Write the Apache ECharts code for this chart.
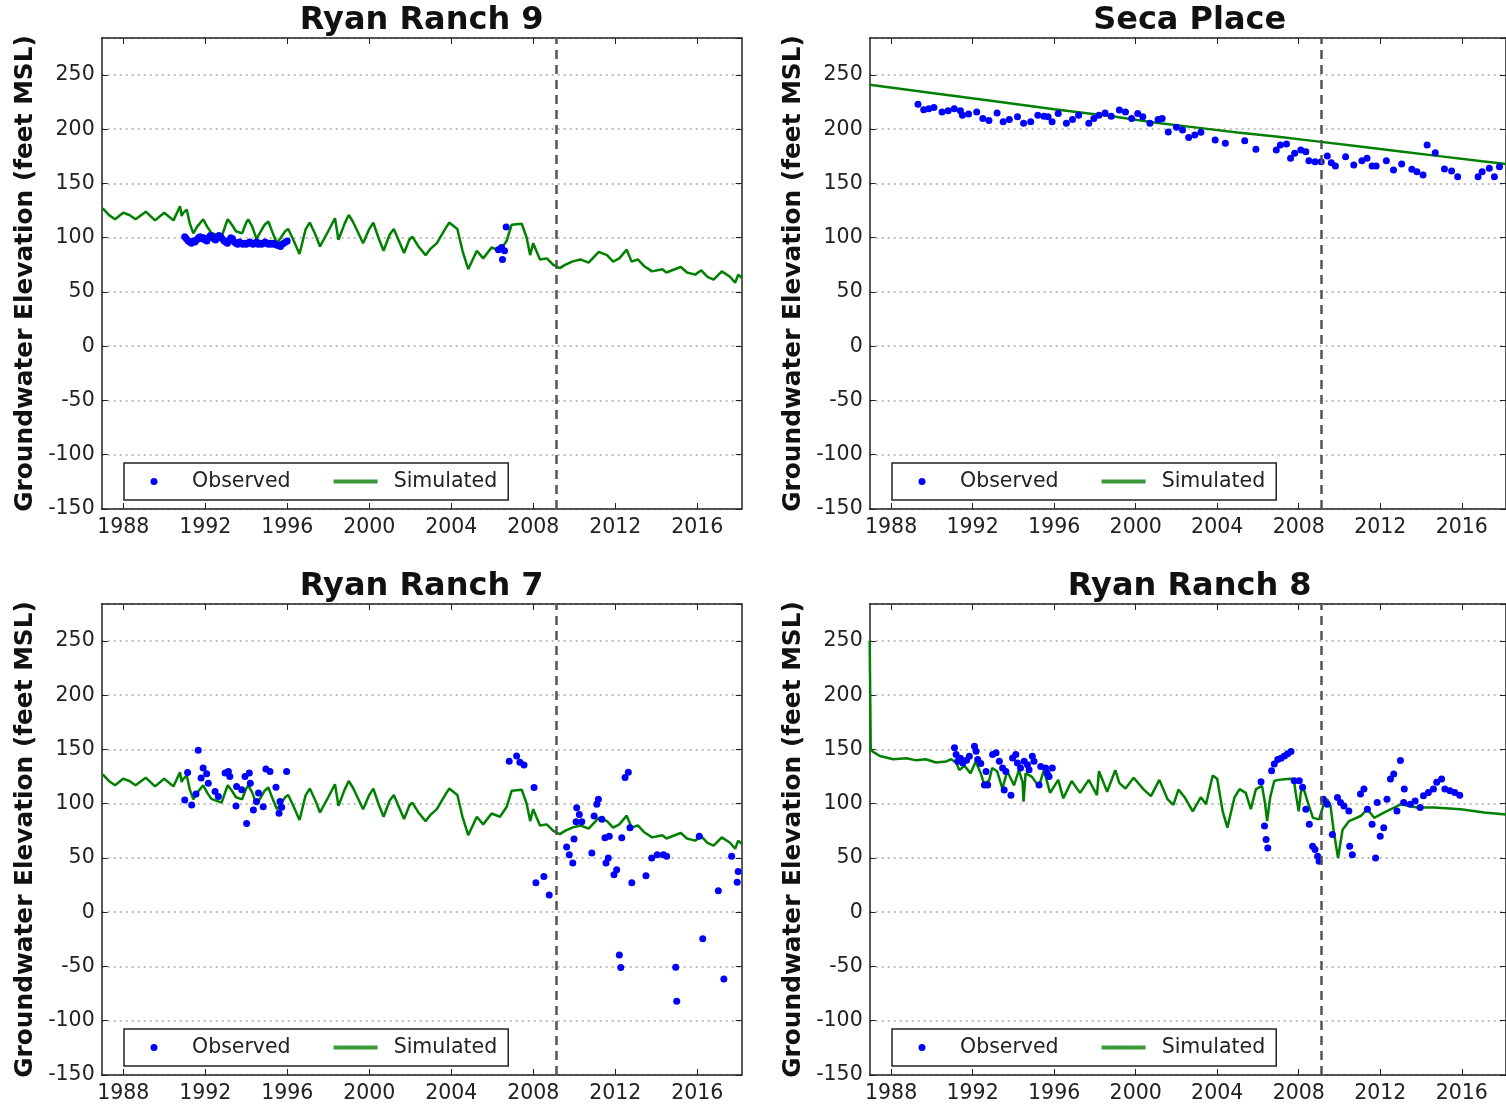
<!DOCTYPE html>
<html>
<head>
<meta charset="utf-8">
<script src="https://cdn.jsdelivr.net/npm/echarts@6/dist/echarts.min.js"></script>
<style>
  html, body { margin: 0; padding: 0; background: #fff; }
  #chart { width: 1506px; height: 1105px; }
</style>
</head>
<body>
<div id="chart"></div>
<script>
// ---- data: decimal year, groundwater elevation (feet MSL) ----
const yearTicks = [1988, 1992, 1996, 2000, 2004, 2008, 2012, 2016];
const wellTitles = ['Ryan Ranch 9', 'Seca Place', 'Ryan Ranch 7', 'Ryan Ranch 8'];
const calibrationEndYear = 2009.1;

// simulated hydrograph shared by Ryan Ranch 9 and Ryan Ranch 7
const simRyanRanch9 = [
  [1987.0,127],[1987.3,121],[1987.6,117],[1988.0,123],[1988.3,121],[1988.6,117],[1989.1,124],
  [1989.55,116],[1990.0,123],[1990.45,116],[1990.77,129],[1990.85,120],[1990.93,123],[1991.1,126],
  [1991.25,113],[1991.42,104],[1991.6,110],[1991.9,117],[1992.1,110],[1992.3,104.5],[1992.8,101],
  [1993.0,112],[1993.1,117],[1993.3,112],[1993.5,106],[1993.8,104],[1994.0,114],[1994.1,117],
  [1994.3,110],[1994.5,99],[1994.9,112],[1995.08,115],[1995.3,104],[1995.5,95],[1995.9,106],
  [1996.05,108],[1996.3,98],[1996.6,85],[1996.9,108],[1997.1,114],[1997.35,104],[1997.6,92],
  [1998.0,106],[1998.33,118],[1998.5,98],[1998.8,113],[1999.0,121],[1999.2,115],[1999.45,105],
  [1999.7,95],[2000.0,108],[2000.2,114],[2000.45,100],[2000.7,88],[2001.0,103],[2001.2,108],
  [2001.45,97],[2001.7,86],[2001.95,98],[2002.1,101],[2002.4,92],[2002.75,84],[2003.0,90],
  [2003.3,95],[2003.7,108],[2003.9,114],[2004.3,108],[2004.55,88],[2004.83,71],[2005.05,80],
  [2005.25,88],[2005.56,81],[2005.97,91],[2006.38,88],[2006.7,97],[2006.95,112],[2007.44,113],
  [2007.68,100],[2007.85,84],[2008.0,95],[2008.15,88],[2008.33,80],[2008.66,81],[2008.98,75],
  [2009.3,72],[2009.55,75],[2009.9,78],[2010.3,80],[2010.7,77],[2011.2,87],[2011.6,84],
  [2011.9,78],[2012.2,81],[2012.56,89],[2012.8,78],[2013.1,80],[2013.4,74],[2013.8,69],
  [2014.3,71],[2014.5,68],[2014.9,71],[2015.2,73],[2015.5,68],[2015.9,66],[2016.2,70],
  [2016.5,64],[2016.8,61.5],[2017.2,69],[2017.6,64],[2017.85,58.5],[2018.0,66],[2018.17,63]
];

const obsRyanRanch9 = [
  [1991.00,101],[1991.08,99],[1991.17,97],[1991.25,96],[1991.33,95],[1991.42,97],[1991.50,96],
  [1991.58,98],[1991.67,100],[1991.75,101],[1991.83,99],[1991.92,100],[1992.00,98],[1992.08,97],
  [1992.17,100],[1992.25,102],[1992.33,101],[1992.42,99],[1992.50,98],[1992.58,100],[1992.67,102],
  [1992.75,101],[1992.83,99],[1992.92,97],[1993.00,96],[1993.08,95],[1993.17,98],[1993.25,100],
  [1993.33,99],[1993.42,96],[1993.50,95],[1993.58,94],[1993.67,96],[1993.75,95],[1993.83,94],
  [1993.92,95],[1994.00,94],[1994.08,95],[1994.17,96],[1994.25,95],[1994.33,94],[1994.42,95],
  [1994.50,96],[1994.58,94],[1994.67,95],[1994.75,94],[1994.83,95],[1994.92,96],[1995.00,95],
  [1995.08,94],[1995.17,95],[1995.25,94],[1995.33,95],[1995.42,94],[1995.50,93],[1995.58,93],
  [1995.67,92],[1995.75,94],[1995.83,95],[1995.92,96],[1996.00,97],
  [2006.30,89],[2006.45,91],[2006.50,80],[2006.60,88],[2006.68,110]
];

const simSecaPlace = [
  [1986.95,241],[1990.0,233.5],[1993.0,226],[1996.0,218.5],[1999.0,211.5],[2001.0,206],
  [2003.0,201.5],[2005.0,197],[2007.0,193],[2009.0,188.6],[2011.0,184],[2013.0,179.5],
  [2015.0,175],[2017.0,170.5],[2018.17,168]
];

const obsSecaPlace = [
  [1989.32,223],[1989.6,218],[1989.85,219],[1990.1,220],[1990.5,216],[1990.8,217],[1991.1,219],
  [1991.4,217],[1991.5,213],[1991.8,214],[1992.2,216],[1992.5,210],[1992.8,208],[1993.2,215],
  [1993.5,207],[1993.8,209],[1994.2,211.5],[1994.5,205.5],[1994.85,207],[1995.2,213],[1995.5,212],
  [1995.7,211.5],[1995.9,207],[1996.2,214.6],[1996.6,205.5],[1996.9,209],[1997.2,213],[1997.7,205.5],
  [1997.95,210],[1998.2,213],[1998.5,215],[1998.8,212],[1999.2,217.7],[1999.5,216],[1999.8,210],
  [2000.1,214.6],[2000.35,211.5],[2000.7,205.5],[2001.1,209],[2001.3,210],[2001.6,197.5],
  [2002.0,201.8],[2002.3,199.3],[2002.6,192.5],[2002.9,194.7],[2003.2,197.2],[2003.9,190.1],
  [2004.4,187],[2005.35,189.5],[2005.9,181.5],[2006.9,180.9],[2007.1,185.5],[2007.4,186.4],
  [2007.6,173.2],[2007.8,177.8],[2008.1,180.9],[2008.35,179.3],[2008.5,171],[2008.8,170.1],
  [2009.1,170.1],[2009.4,175.4],[2009.6,169.2],[2009.8,166.1],[2010.3,174.7],[2010.7,167],
  [2011.1,171],[2011.35,173.2],[2011.6,166.1],[2011.8,166.1],[2012.3,171],[2012.65,162.4],
  [2013.05,168],[2013.55,163.1],[2013.8,160.9],[2014.1,157.8],[2014.3,185.5],[2014.7,178.4],
  [2015.15,163.3],[2015.5,161.5],[2015.8,156.2],[2016.8,156.2],[2017.0,160.9],[2017.35,164],
  [2017.6,156.2],[2017.85,165.5]
];

const obsRyanRanch7 = [
  [1991.0,103.5],[1991.14,128.9],[1991.34,98.9],[1991.55,109],[1991.66,149.4],[1991.8,123.7],
  [1991.9,133],[1992.07,127.7],[1992.15,119],[1992.48,111.2],[1992.64,106.6],[1992.97,128.3],
  [1993.13,129.8],[1993.2,125.2],[1993.5,98],[1993.53,115.9],[1993.78,112.8],[1993.94,125.2],
  [1994.02,81.9],[1994.15,128.3],[1994.2,119],[1994.35,94.2],[1994.5,102],[1994.6,109.8],
  [1994.83,97.3],[1994.96,132],[1995.16,129.8],[1995.45,115.3],[1995.6,91.2],[1995.65,102],
  [1995.73,96.8],[1995.97,129.8],
  [2006.83,139.2],[2007.19,143.9],[2007.35,138.3],[2007.55,135.8],[2008.04,115],[2008.13,27.3],
  [2008.52,32.9],[2008.78,15.9],[2009.63,60.2],[2009.76,53.1],[2009.93,45.3],[2009.99,67.6],
  [2010.09,83.5],[2010.12,96.4],[2010.25,90.2],[2010.37,83.5],[2010.86,54.6],[2010.97,88.7],
  [2011.1,99.5],[2011.18,104.2],[2011.35,85.6],[2011.5,68.6],[2011.55,45.3],[2011.66,50],
  [2011.71,70.1],[2011.94,34.5],[2012.07,39.1],[2012.2,-39.5],[2012.27,-51],[2012.32,68.6],
  [2012.48,124.3],[2012.64,129],[2012.72,77.9],[2012.81,27.3],[2013.5,33.6],[2013.78,50],
  [2014.05,53.1],[2014.35,53.1],[2014.51,51.5],[2014.95,-50.7],[2015.0,-82],[2016.1,70.1],
  [2016.27,-24.4],[2017.03,19.9],[2017.3,-61.5],[2017.68,51.5],[2017.95,27.7],[2018.0,37.6]
];

const simRyanRanch8 = [
  [1986.95,250],[1987.0,150],[1987.1,148],[1987.45,144],[1988.1,141],[1988.75,142],[1989.24,140],
  [1989.7,141],[1990.2,138],[1990.7,139],[1990.95,141],[1991.2,137.6],[1991.35,131],[1991.6,135],
  [1991.9,128],[1992.15,139],[1992.4,128],[1992.55,119],[1992.8,121],[1992.96,133],[1993.2,130],
  [1993.46,114],[1993.7,130],[1994.03,117],[1994.27,131],[1994.45,120],[1994.5,102],[1994.6,128],
  [1994.9,125],[1995.25,116],[1995.5,131],[1995.8,110],[1996.2,122],[1996.45,105],[1996.86,121],
  [1997.27,110],[1997.7,122],[1998.1,108],[1998.2,130],[1998.6,111],[1999.0,131],[1999.2,119],
  [1999.5,114],[1999.9,124],[2000.4,113],[2000.75,107],[2001.16,122],[2001.57,104],[2001.85,99],
  [2002.1,113],[2002.4,106],[2002.8,93],[2003.2,106],[2003.45,99.5],[2003.78,126],[2004.0,123],
  [2004.27,93],[2004.5,78],[2004.85,106],[2005.1,113.5],[2005.4,110],[2005.65,95],[2005.9,113.5],
  [2006.2,116.5],[2006.35,100],[2006.45,84],[2006.6,106],[2006.8,121],[2007.0,122],[2007.3,122.5],
  [2007.6,123],[2007.76,122.8],[2007.85,110],[2008.0,93],[2008.1,110],[2008.2,116.5],[2008.45,101],
  [2008.7,87],[2009.0,85.6],[2009.25,101],[2009.4,104],[2009.56,98],[2009.73,73],[2009.93,50],
  [2010.15,76],[2010.47,84],[2011.04,88.7],[2011.37,95],[2011.7,87],[2012.2,92],[2012.68,96.5],
  [2013.0,99.5],[2013.8,96.5],[2014.65,96.5],[2015.95,95],[2017.1,92],[2018.17,90]
];

const obsRyanRanch8 = [
  [1991.11,151.6],[1991.19,145.3],[1991.27,139.1],[1991.4,142],[1991.52,137.6],[1991.7,140],
  [1991.84,143.7],[1992.09,153.1],[1992.17,148.4],[1992.25,140.7],[1992.4,137],[1992.58,117.3],
  [1992.66,129.7],[1992.74,117.3],[1992.98,145.3],[1993.15,146.9],[1993.31,139.1],[1993.47,132.9],
  [1993.55,112.6],[1993.63,129.7],[1993.88,107.9],[1993.96,142.2],[1994.12,145.3],[1994.2,137.6],
  [1994.35,133],[1994.53,139.1],[1994.69,136],[1994.77,131.3],[1994.93,143.7],[1995.01,139.1],
  [1995.26,117.3],[1995.34,134.4],[1995.58,132.9],[1995.66,128],[1995.75,125],[1995.91,132.9],
  [2006.15,120.3],[2006.32,79.4],[2006.4,67],[2006.48,59.3],[2006.67,130.5],[2006.8,136.7],
  [2006.97,140.7],[2007.13,142],[2007.3,143.9],[2007.46,146],[2007.62,148.1],[2007.78,121.2],
  [2008.03,121.2],[2008.19,115.1],[2008.35,94.9],[2008.52,81],[2008.68,60.8],[2008.8,57.8],
  [2008.93,51.5],[2009.0,46.9],[2009.21,104.2],[2009.4,99.5],[2009.65,71.7],[2009.9,105.8],
  [2010.05,101.1],[2010.22,98],[2010.46,93.3],[2010.5,60.8],[2010.63,53.1],[2011.03,108.9],
  [2011.2,113.5],[2011.37,94.9],[2011.6,81],[2011.77,50],[2011.85,101.1],[2012.0,70.1],
  [2012.17,77.9],[2012.33,104.2],[2012.5,122.8],[2012.66,127.4],[2012.82,93.3],[2012.99,139.8],
  [2013.15,101.1],[2013.18,113.5],[2013.47,99.5],[2013.71,102.6],[2013.96,96.5],[2014.12,107.3],
  [2014.36,110.4],[2014.61,113.5],[2014.77,119.7],[2015.01,122.8],[2015.17,113.5],[2015.42,112],
  [2015.66,110.4],[2015.9,107.9]
];

const panelObserved = [obsRyanRanch9, obsSecaPlace, obsRyanRanch7, obsRyanRanch8];
const panelSimulated = [simRyanRanch9, simSecaPlace, simRyanRanch9, simRyanRanch8];

// ---- layout ----
const FONT = '"DejaVu Sans", sans-serif';
const plotLefts = [101.7, 869.7, 101.7, 869.7];
const plotTops = [38, 38, 604, 604];
const plotW = 640, plotH = 471;
const xMin = 1986.95, xMax = 2018.17;
const yMin = -150, yMax = 284.1;
const ink = '#222';

// legend keys drawn in a 55x7 box: a dot centred at x=22, and a 44px bar;
// the zero-length corner segments fix the box so the key is not rescaled
const boxCorners = 'M0,0L0.01,0Z M55,7L54.99,7Z ';
const dotKey = 'path://' + boxCorners + 'M18.5,3.5A3.5,3.5,0,1,1,25.5,3.5A3.5,3.5,0,1,1,18.5,3.5Z';
const barKey = 'path://' + boxCorners + 'M0,1.5L44,1.5L44,5.5L0,5.5Z';

const grids = [], xAxes = [], yAxes = [], series = [], legends = [], graphics = [];

for (let i = 0; i < 4; i++) {
  const L = plotLefts[i], T = plotTops[i];
  grids.push({ left: L, top: T, width: plotW, height: plotH, containLabel: false });

  const frame = { show: true, onZero: false, lineStyle: { color: ink, width: 1.5 } };
  // bottom x axis with year labels
  xAxes.push({
    type: 'value', gridIndex: i, position: 'bottom', min: xMin, max: xMax,
    axisLine: frame,
    axisTick: { show: true, inside: true, length: 6, customValues: yearTicks, lineStyle: { color: ink } },
    axisLabel: { customValues: yearTicks, formatter: v => String(Math.round(v)),
      color: ink, fontSize: 20.5, fontFamily: FONT, margin: 8 },
    splitLine: { show: false }
  });
  // mirrored top axis (ticks only)
  xAxes.push({
    type: 'value', gridIndex: i, position: 'top', min: xMin, max: xMax,
    axisLine: frame,
    axisTick: { show: true, inside: true, length: 6, customValues: yearTicks, lineStyle: { color: ink } },
    axisLabel: { show: false }, splitLine: { show: false }
  });
  // left y axis with labels, grid lines and title
  yAxes.push({
    type: 'value', gridIndex: i, position: 'left', min: yMin, max: yMax, interval: 50,
    axisLine: frame,
    axisTick: { show: true, inside: true, length: 6, lineStyle: { color: ink } },
    axisLabel: { showMaxLabel: false, color: ink, fontSize: 20.5, fontFamily: FONT, margin: 7 },
    splitLine: { show: true, lineStyle: { type: [2, 4], color: '#a8a8a8', width: 1.5 } },
    name: 'Groundwater Elevation (feet MSL)', nameLocation: 'middle', nameGap: 64,
    nameTextStyle: { fontWeight: 'bold', fontSize: 24.8, fontFamily: FONT, color: '#111' }
  });
  // mirrored right axis (ticks only)
  yAxes.push({
    type: 'value', gridIndex: i, position: 'right', min: yMin, max: yMax, interval: 50,
    axisLine: frame,
    axisTick: { show: true, inside: true, length: 6, lineStyle: { color: ink } },
    axisLabel: { show: false }, splitLine: { show: false }
  });

  series.push({
    name: 'Simulated', type: 'line', xAxisIndex: 2 * i, yAxisIndex: 2 * i,
    data: panelSimulated[i], symbol: 'none', z: 2,
    lineStyle: { color: '#008000', width: 2.5 }, itemStyle: { color: '#008000' },
    animation: false,
    markLine: {
      silent: true, symbol: 'none', label: { show: false },
      lineStyle: { color: '#555', type: [9, 6], width: 2.5 },
      data: [{ xAxis: calibrationEndYear }]
    }
  });
  series.push({
    name: 'Observed', type: 'scatter', xAxisIndex: 2 * i, yAxisIndex: 2 * i,
    data: panelObserved[i], symbol: 'circle', symbolSize: 7, z: 3,
    itemStyle: { color: '#0000ff', opacity: 1 }, animation: false
  });

  legends.push({
    left: L + 22.3, top: T + 425, orient: 'horizontal',
    data: [
      { name: 'Observed', icon: dotKey, itemStyle: { color: '#0000ff', opacity: 1 } },
      { name: 'Simulated', icon: barKey, itemStyle: { color: '#3a9a3a' } }
    ],
    itemWidth: 55, itemHeight: 7, itemGap: 43,
    padding: [8, 11, 8, 8], borderColor: ink, borderWidth: 1.5,
    textStyle: { fontSize: 20.5, fontFamily: FONT, color: ink },
    selectedMode: false
  });

  graphics.push({
    type: 'text', x: L + plotW / 2, y: T - 17,
    style: { text: wellTitles[i], font: 'bold 32px ' + FONT, fill: '#111',
      textAlign: 'center', align: 'center', textVerticalAlign: 'middle', verticalAlign: 'middle' }
  });
}

const chart = echarts.init(document.getElementById('chart'), null, { renderer: 'canvas' });
chart.setOption({
  animation: false,
  backgroundColor: '#fff',
  grid: grids, xAxis: xAxes, yAxis: yAxes,
  series: series, legend: legends, graphic: graphics
});
</script>
</body>
</html>
